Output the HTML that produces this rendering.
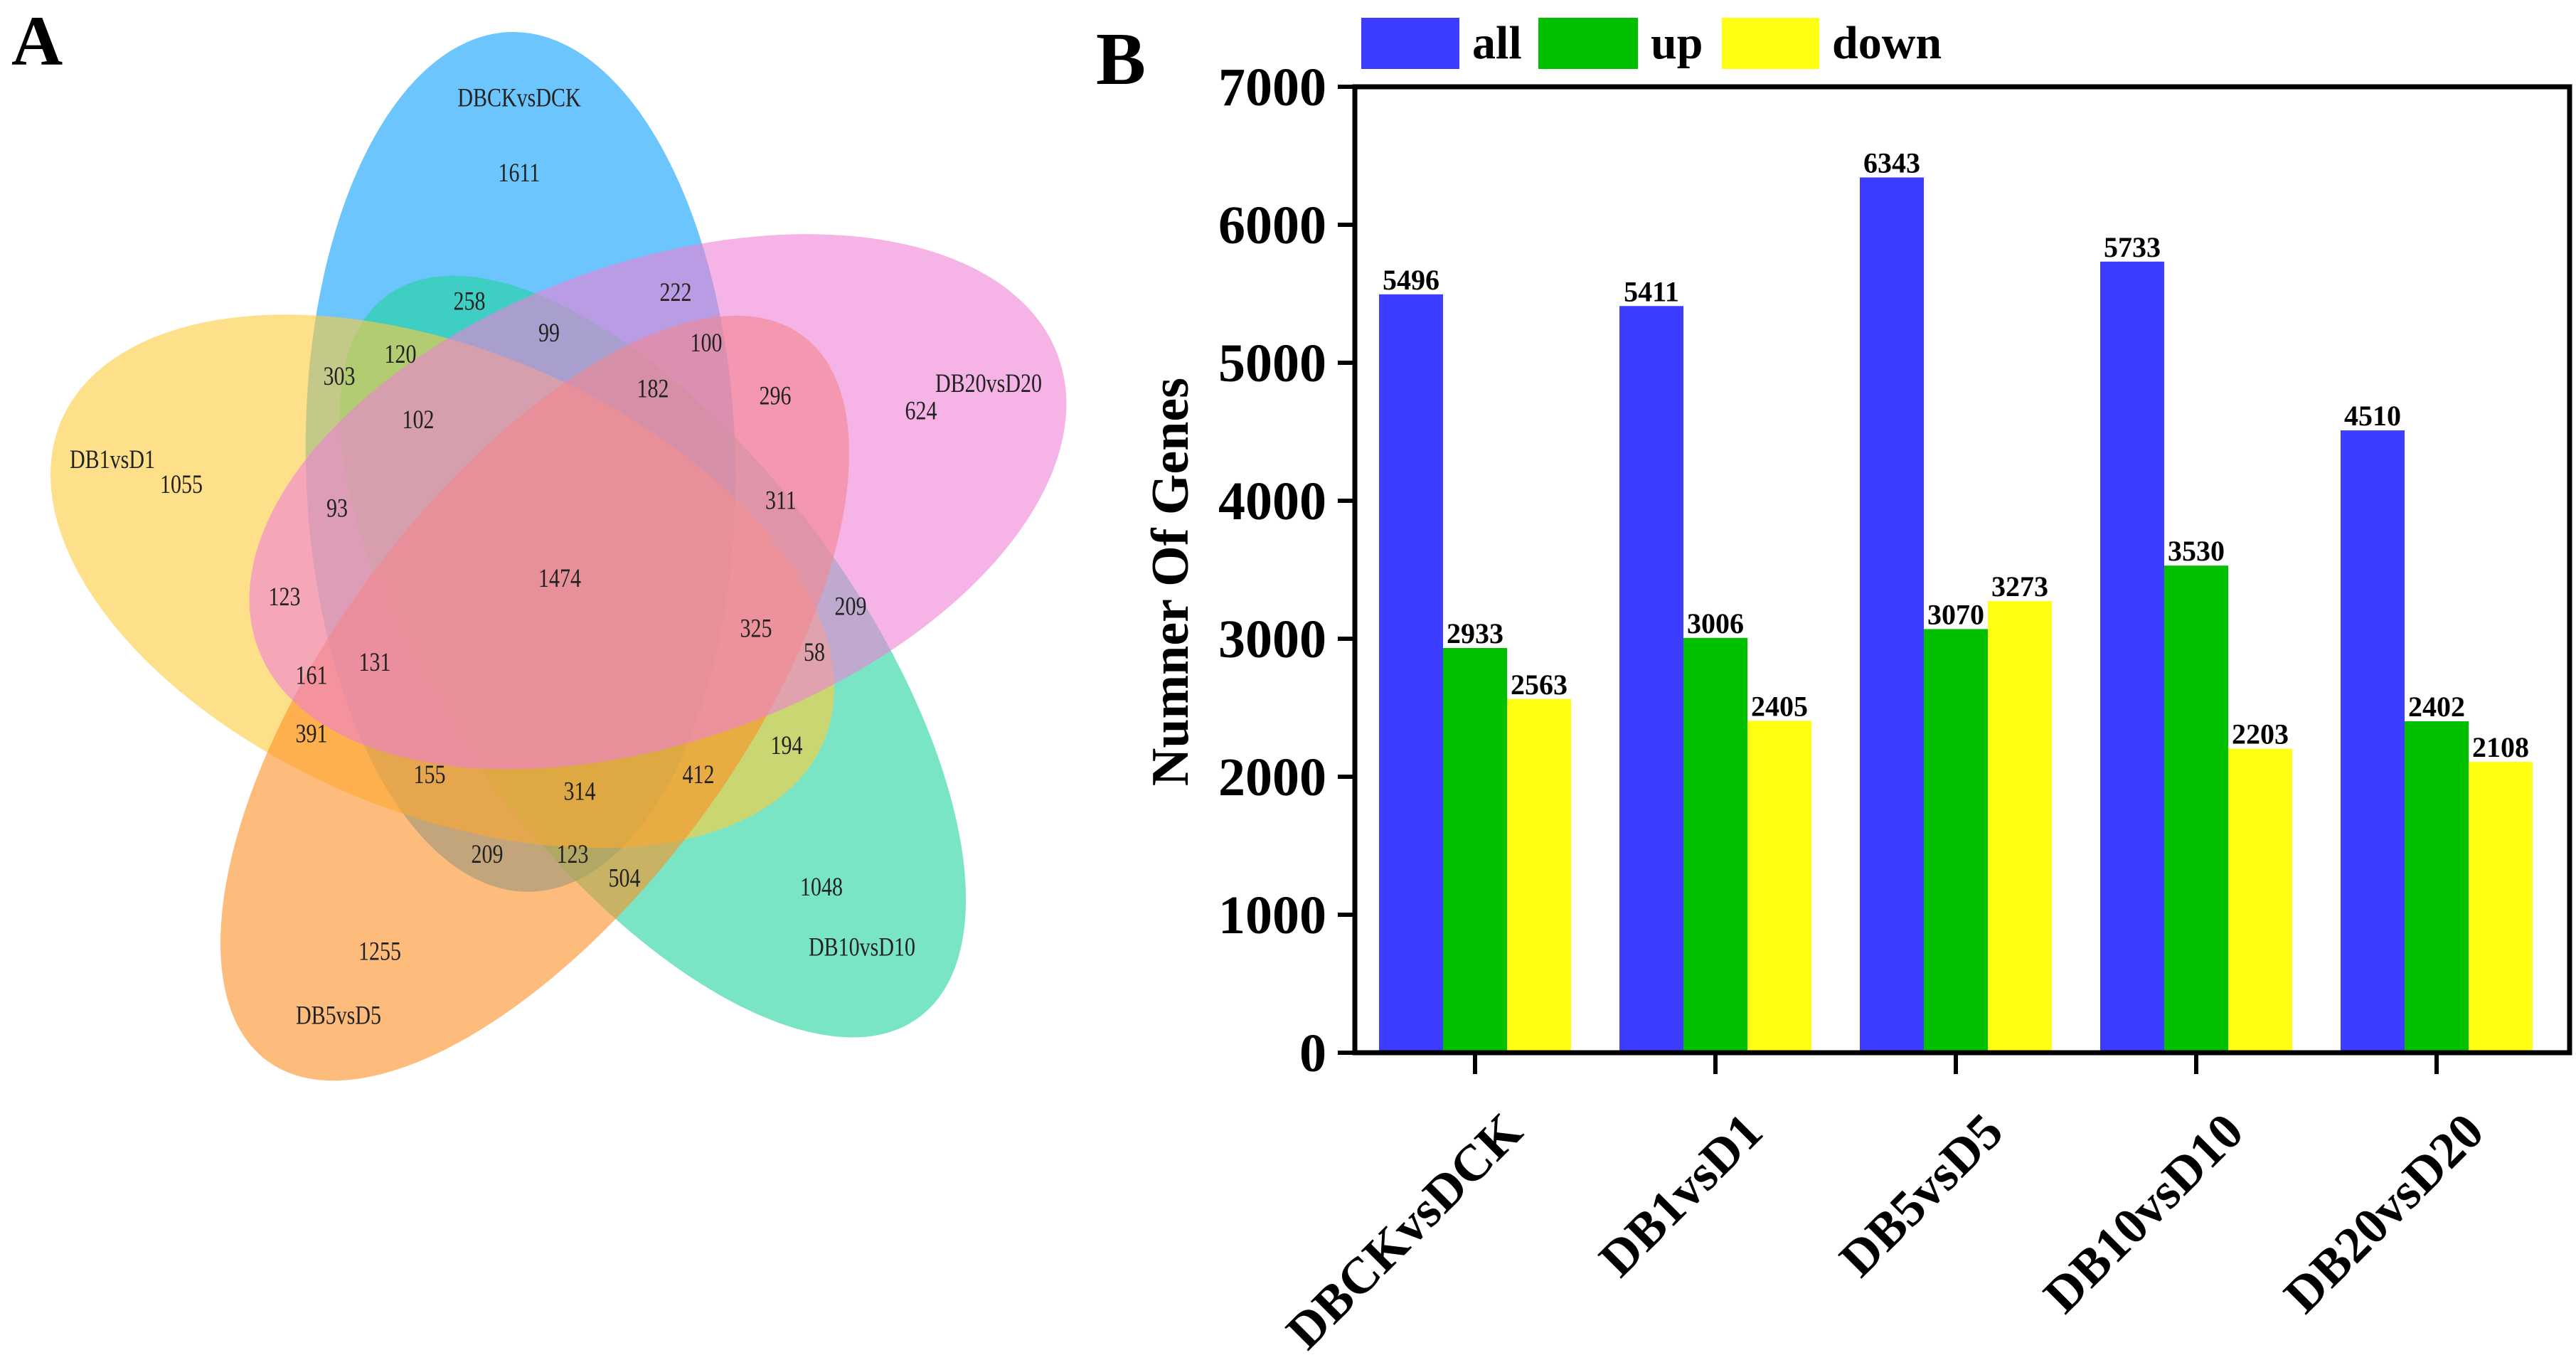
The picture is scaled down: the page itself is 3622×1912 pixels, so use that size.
<!DOCTYPE html>
<html><head><meta charset="utf-8"><style>
html,body{margin:0;padding:0;background:#fff;}
body{width:3622px;height:1912px;position:relative;overflow:hidden;font-family:"Liberation Serif",serif;}
svg{position:absolute;top:0;}
#lblA{position:absolute;left:16px;top:8px;font-size:100px;font-weight:bold;line-height:1;}
</style></head><body>
<div id="lblA">A</div>
<svg style="left:0" width="1600" height="1912" viewBox="0 23 1600 1537" preserveAspectRatio="none">
  <g>
    <ellipse opacity="0.6" cx="732" cy="545" rx="302" ry="486" transform="rotate(-2 732 545)" fill="rgb(10,158,250)"/>
    <ellipse opacity="0.6" cx="918" cy="765" rx="557" ry="262" transform="rotate(44 918 765)" fill="rgb(33,212,157)"/>
    <ellipse opacity="0.6" cx="622" cy="680" rx="568" ry="268" transform="rotate(16 622 680)" fill="rgb(255,203,60)"/>
    <ellipse opacity="0.6" cx="752" cy="812" rx="560" ry="262" transform="rotate(-44 752 812)" fill="rgb(252,143,37)"/>
    <ellipse opacity="0.6" cx="925" cy="590" rx="588" ry="275" transform="rotate(-14 925 590)" fill="rgb(238,128,213)"/>
  </g>
  <g font-family="Liberation Serif" font-size="30" fill="#222" text-anchor="middle">
    <text x="730" y="143">DBCKvsDCK</text>
    <text x="1390" y="466">DB20vsD20</text>
    <text x="158" y="552">DB1vsD1</text>
    <text x="476" y="1180">DB5vsD5</text>
    <text x="1212" y="1103">DB10vsD10</text>
    <text x="730" y="228">1611</text><text x="660" y="373">258</text><text x="950" y="363">222</text>
    <text x="772" y="409">99</text><text x="563" y="433">120</text><text x="477" y="458">303</text>
    <text x="993" y="420">100</text><text x="918" y="472">182</text><text x="1090" y="480">296</text>
    <text x="1295" y="497">624</text><text x="588" y="507">102</text><text x="255" y="580">1055</text>
    <text x="474" y="607">93</text><text x="1098" y="598">311</text><text x="787" y="686">1474</text>
    <text x="400" y="707">123</text><text x="1196" y="718">209</text><text x="1063" y="743">325</text>
    <text x="1145" y="770">58</text><text x="438" y="796">161</text><text x="527" y="781">131</text>
    <text x="438" y="862">391</text><text x="1106" y="875">194</text><text x="604" y="908">155</text>
    <text x="982" y="908">412</text><text x="815" y="927">314</text><text x="685" y="998">209</text>
    <text x="805" y="998">123</text><text x="878" y="1025">504</text><text x="1155" y="1035">1048</text>
    <text x="534" y="1108">1255</text>
  </g>
</svg>
<svg id="bar" style="left:0" width="3622" height="1912"></svg>
<script>
const categories=["DBCKvsDCK","DB1vsD1","DB5vsD5","DB10vsD10","DB20vsD20"];
const allVals=[5496,5411,6343,5733,4510];
const upVals=[2933,3006,3070,3530,2402];
const downVals=[2563,2405,3273,2203,2108];
const yTicks=[0,1000,2000,3000,4000,5000,6000,7000];
const seriesNames=["all","up","down"];
const seriesColors=["#3d3dff","#00c000","#ffff14"];
const NS="http://www.w3.org/2000/svg";
const svg=document.getElementById('bar');
const X0=1905,X1=3613,Y0=1480,Ytop=122,YMAX=7000;
const y=v=>Y0-(Y0-Ytop)*v/YMAX;
const gStep=338,gFirst=2074,barW=90;
const xc=i=>gFirst+i*gStep;
function el(t,a,txt){const e=document.createElementNS(NS,t);for(const k in a)e.setAttribute(k,a[k]);if(txt!==undefined)e.textContent=txt;svg.appendChild(e);return e;}
const P="Liberation Serif";
let e=el('text',{x:1541,y:118,'font-size':105,'font-weight':'bold','font-family':P},'B');


const series=[allVals,upVals,downVals];
series.forEach((vals,s)=>{
  vals.forEach((v,i)=>{
    const bx=xc(i)-1.5*barW+s*barW;
    const r=el('rect',{x:bx,y:y(v),width:barW,height:Y0-y(v),fill:seriesColors[s]});
    
    
    const t=el('text',{x:bx+barW/2,y:y(v)-7,'font-size':40,'font-weight':'bold','font-family':P,'text-anchor':'middle'},String(v));
    
    
  });
});
const f=el('rect',{x:X0,y:Ytop,width:X1-X0,height:Y0-Ytop,fill:'none',stroke:'#000','stroke-width':7});


yTicks.forEach(v=>{
  el('line',{x1:X0-24,x2:X0,y1:y(v),y2:y(v),stroke:'#000','stroke-width':6});
  const t=el('text',{x:X0-40,y:y(v)+26,'font-size':76,'font-weight':'bold','font-family':P,'text-anchor':'end'},String(v));
  
  
});
categories.forEach((c,i)=>{
  el('line',{x1:xc(i),x2:xc(i),y1:Y0,y2:Y0+30,stroke:'#000','stroke-width':6});
  const ax=xc(i)+70,ay=Y0+115;
  const t=el('text',{x:ax,y:ay,'font-size':72,'font-weight':'bold','font-family':P,'text-anchor':'end',transform:`rotate(-45 ${ax} ${ay})`},c);
  
  
});
const yt=el('text',{x:1670,y:818,'font-size':74,'font-weight':'bold','font-family':P,'text-anchor':'middle',transform:'rotate(-90 1670 818)'},'Numner Of Genes');


const legX=[1914,2163,2421],legW=[138,140,137];
seriesNames.forEach((n,s)=>{
  const r=el('rect',{x:legX[s],y:25,width:legW[s],height:72,fill:seriesColors[s]});
  
  
  const t=el('text',{x:legX[s]+legW[s]+18,y:82,'font-size':66,'font-weight':'bold','font-family':P},n);
  
  
});
</script>
</body></html>
